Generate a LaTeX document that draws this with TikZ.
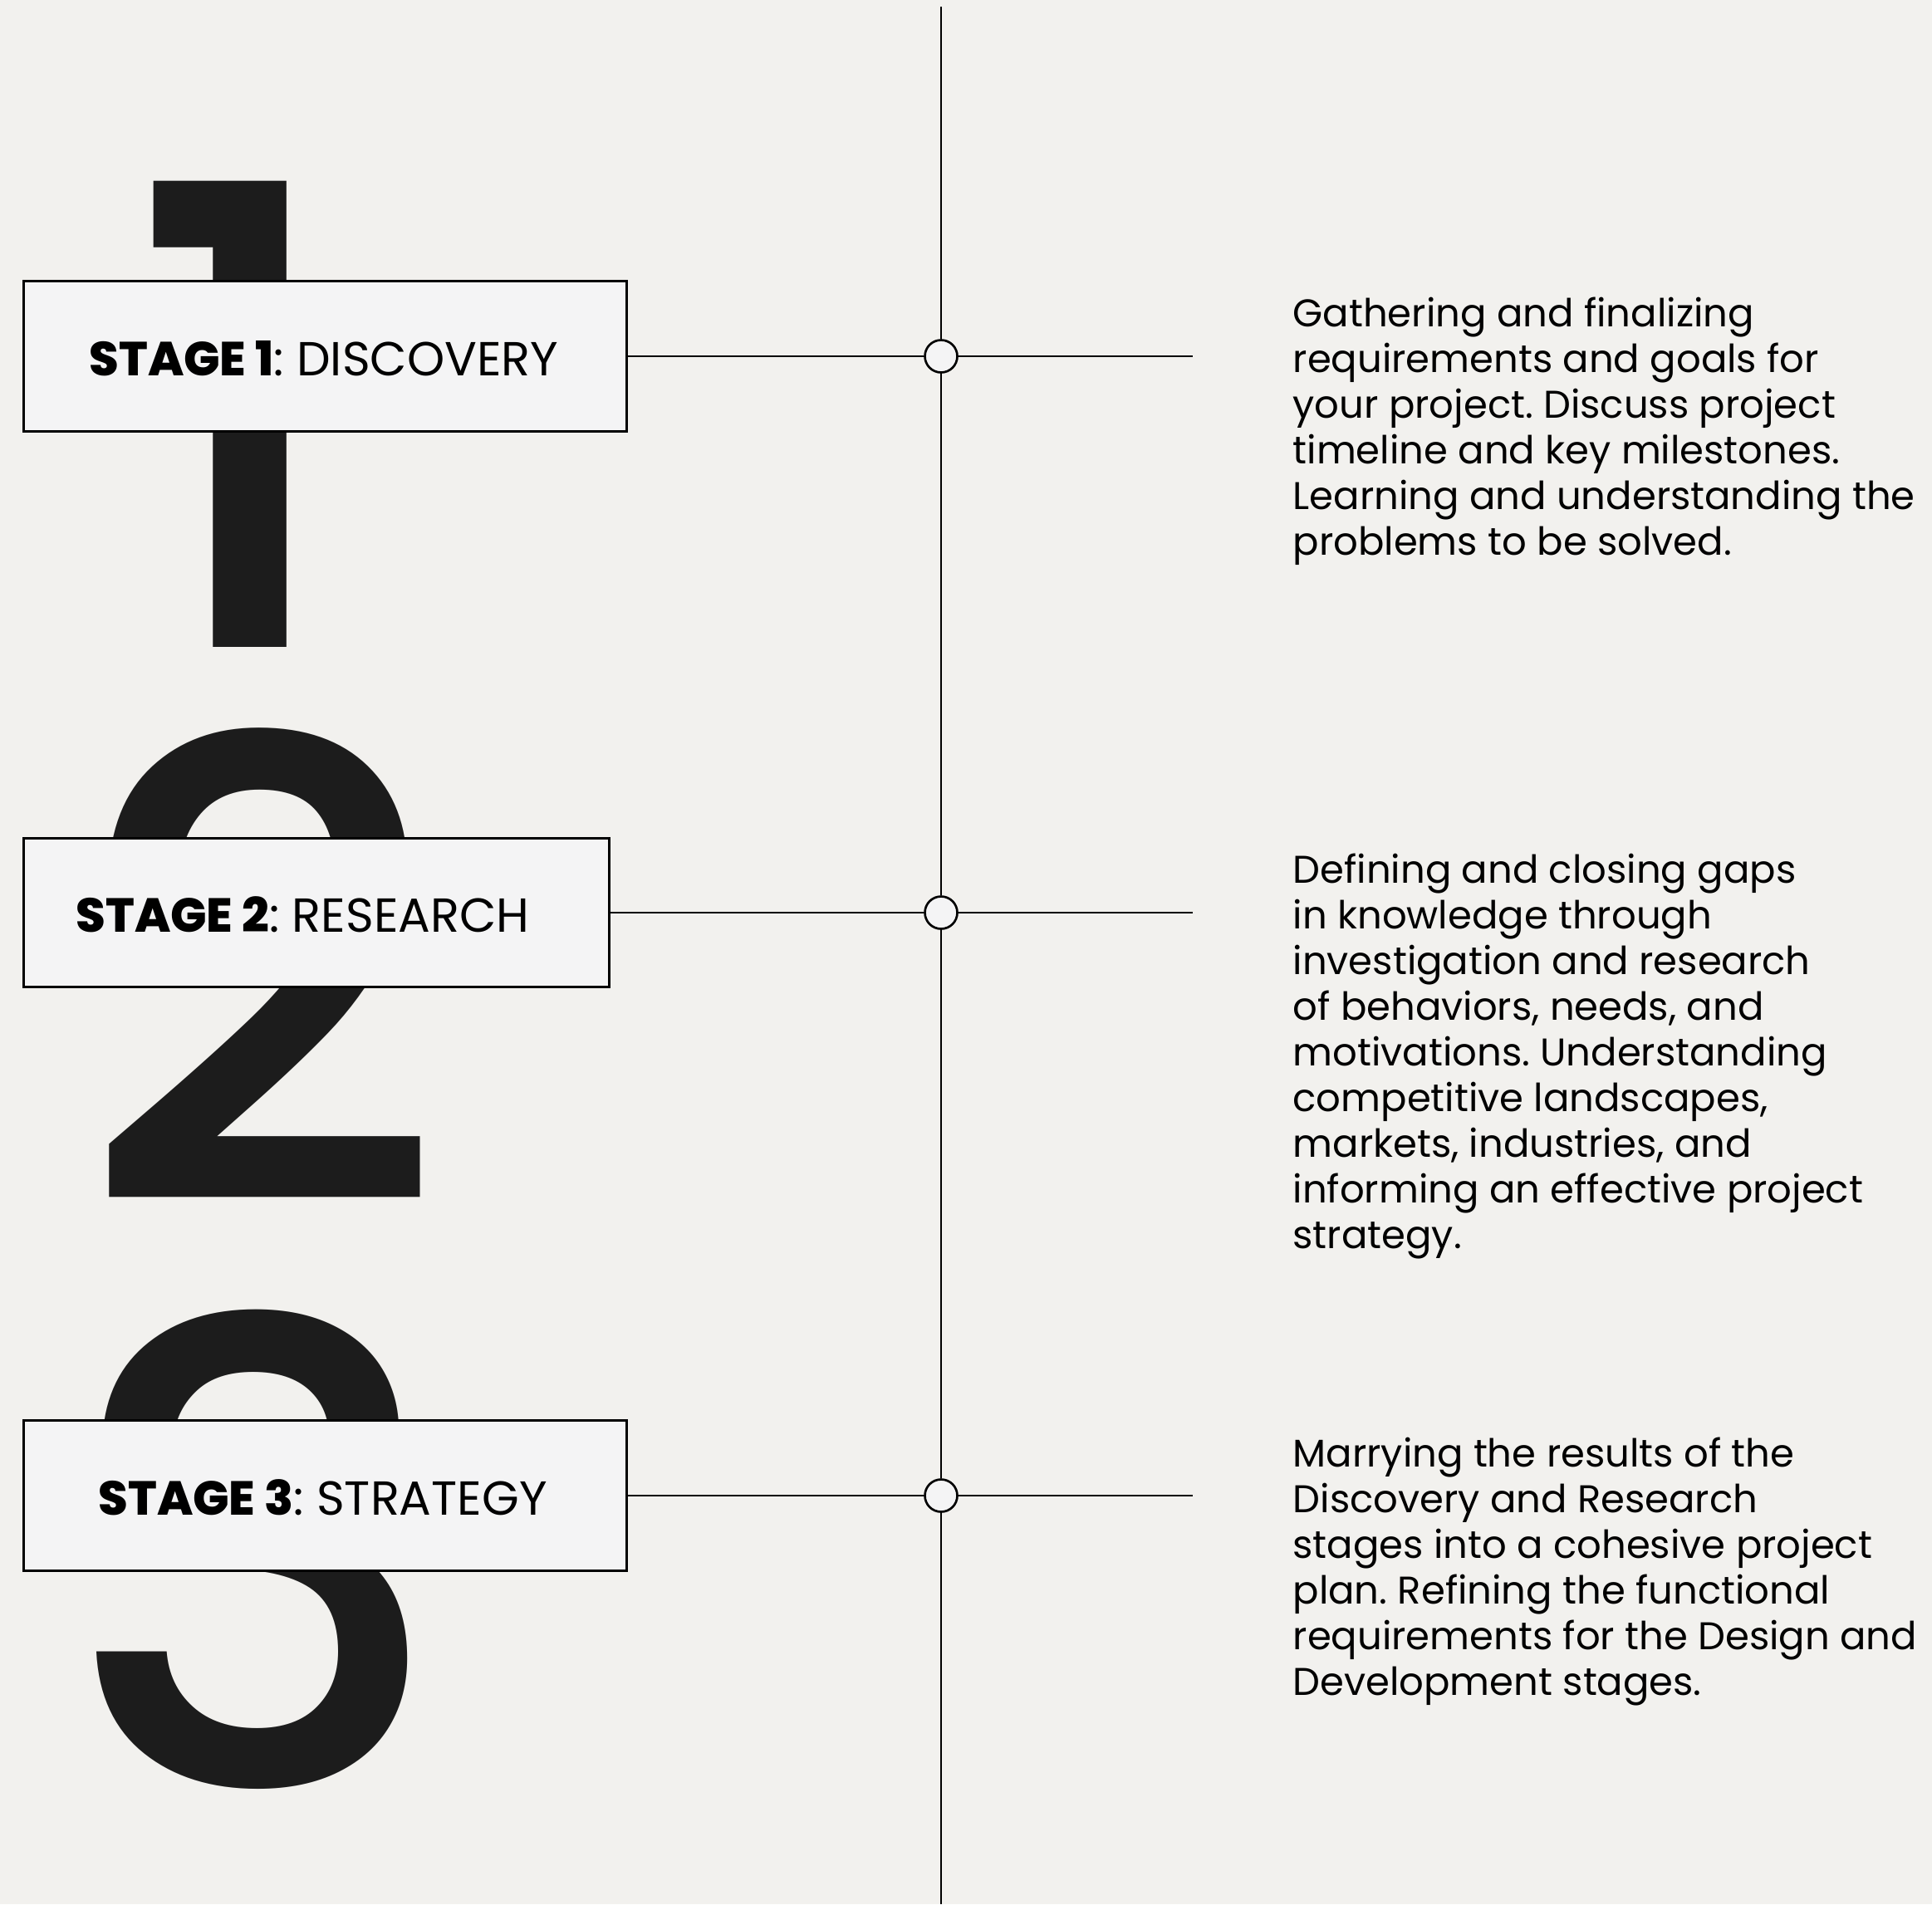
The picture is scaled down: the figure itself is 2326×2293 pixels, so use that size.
\documentclass[tikz,border=0pt]{standalone}
\usepackage{fontspec}
\setmainfont{Poppins}
\newfontfamily\stagebold{Poppins ExtraBold}
\newfontfamily\bignumfont{Poppins Medium}
\definecolor{bgcol}{HTML}{F2F1EE}
\definecolor{boxfill}{HTML}{F4F4F5}
\definecolor{numink}{HTML}{1C1C1C}
\frenchspacing
\tikzset{
  bignum/.style={inner sep=0pt, text=numink, font=\bignumfont\fontsize{231pt}{231pt}\selectfont},
  stagebox/.style={draw=black, line width=0.9pt, fill=boxfill, inner sep=0pt},
  stagelabel/.style={inner sep=0pt, font=\fontsize{17.25pt}{20pt}\selectfont},
  desc/.style={inner sep=0pt, align=left, font=\fontsize{13.95pt}{16.5pt}\selectfont},
  dot/.style={circle, draw=black, line width=0.8pt, fill=boxfill, minimum size=11.7pt, inner sep=0pt},
  conn/.style={line width=0.75pt, draw=black}
}
\begin{document}
\begin{tikzpicture}[x=0.3pt,y=-0.3pt]
\fill[bgcol] (0,0) rectangle (2326,2293);
\useasboundingbox (0,0) rectangle (2326,2293);

% big numerals
\node[bignum, anchor=base] (n1) at (285.6,779) {1};
\node[bignum, anchor=base] (n2) at (314.5,1449) {2};
\node[bignum, anchor=base] (n3) at (308,2151) {3};

% timeline
\coordinate (top) at (1133,8);
\coordinate (bot) at (1133,2293);
\node[dot] (c1) at (1133,429) {};
\node[dot] (c2) at (1133,1099) {};
\node[dot] (c3) at (1133,1801) {};
\draw[conn] (top) -- (c1);
\draw[conn] (c1) -- (c2);
\draw[conn] (c2) -- (c3);
\draw[conn] (c3) -- (bot);

% stage boxes
\node[stagebox, minimum width=217.8pt, minimum height=54.3pt] (b1) at (391,429) {};
\node[stagebox, minimum width=211.5pt, minimum height=53.7pt] (b2) at (380.5,1099) {};
\node[stagebox, minimum width=217.8pt, minimum height=54.3pt] (b3) at (391,1801) {};
\node[stagelabel, anchor=base west] (l1) at (107,452) {{\stagebold STAGE 1}: DISCOVERY};
\node[stagelabel, anchor=base west] (l2) at (91,1122) {{\stagebold STAGE 2}: RESEARCH};
\node[stagelabel, anchor=base west] (l3) at (118,1824) {{\stagebold STAGE 3}: STRATEGY};

% connectors
\coordinate (e1) at (1436,429);
\coordinate (e2) at (1436,1099);
\coordinate (e3) at (1436,1801);
\draw[conn] (b1.east) -- (c1);
\draw[conn] (c1) -- (e1);
\draw[conn] (b2.east) -- (c2);
\draw[conn] (c2) -- (e2);
\draw[conn] (b3.east) -- (c3);
\draw[conn] (c3) -- (e3);

% descriptions (base anchor = baseline of last line)
\node[desc, anchor=base west] (d1) at (1556,668) {Gathering and finalizing\\requirements and goals for\\your project. Discuss project\\timeline and key milestones.\\Learning and understanding the\\problems to be solved.};
\node[desc, anchor=base west] (d2) at (1556,1503) {Defining and closing gaps\\in knowledge through\\investigation and research\\of behaviors, needs, and\\motivations. Understanding\\competitive landscapes,\\markets, industries, and\\informing an effective project\\strategy.};
\node[desc, anchor=base west] (d3) at (1556,2041) {Marrying the results of the\\Discovery and Research\\stages into a cohesive project\\plan. Refining the functional\\requirements for the Design and\\Development stages.};
\end{tikzpicture}
\end{document}
